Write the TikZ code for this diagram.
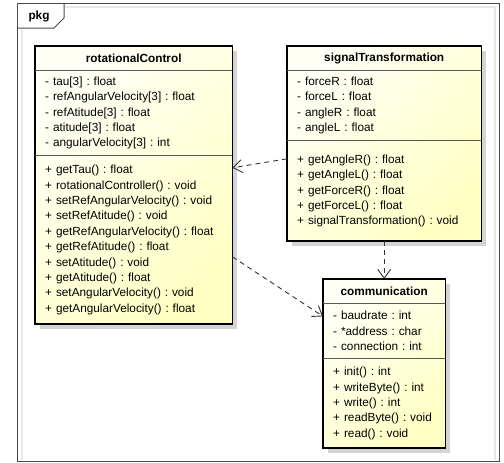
\documentclass[tikz,border=0pt]{standalone}
\usepackage{fontspec}
\setmainfont{Liberation Sans}
\usetikzlibrary{positioning,fit,backgrounds,shadows,arrows.meta}

\definecolor{clstop}{HTML}{FFFFF6}
\definecolor{clsbot}{HTML}{FFFFC4}
\definecolor{pkgline}{HTML}{4A4A4A}
\definecolor{pkginner}{HTML}{E8E8E8}
\definecolor{shadowgray}{HTML}{D4D4D4}

\newcommand{\umlfont}{\fontsize{11.8}{15.4}\selectfont\frenchspacing}

\begin{document}
\begin{tikzpicture}[x=1pt, y=-1pt,
    cls/.style = {font=\umlfont, inner xsep=10pt, inner ysep=3pt, text width=#1, align=left},
    clsname/.style = {cls=#1, font=\umlfont\bfseries, align=center, minimum height=24pt},
    clsbox/.style = {draw=black, line width=1.6pt, inner sep=0pt,
        top color=clstop, bottom color=clsbot, shading angle=45,
        drop shadow={shadow xshift=5pt, shadow yshift=-5pt, fill=shadowgray, opacity=1}},
    sepline/.style = {draw=black!65, line width=0.9pt},
    pkgframe/.style = {draw=pkgline, line width=1pt},
    pkgshade/.style = {draw=pkginner, line width=1.2pt},
    depend/.style = {draw=black!80, line width=0.9pt, dash pattern=on 5pt off 4pt,
        -{Straight Barb[length=9pt,width=13pt]}}]
    \useasboundingbox (0,0) rectangle (504,463);

    % package frame
    \draw[pkgshade] (22,29) -- (22,460);
    \draw[pkgshade] (65,7) -- (495,7) -- (495,460);
    \draw[pkgframe] (17,3) rectangle (499,461);
    \draw[pkgframe] (17,28) -- (54,28) -- (64,18) -- (64,3);
    \node[font=\umlfont\bfseries] (pkg) at (39,16) {pkg};

    % rotationalControl
    \node[clsname=177pt, anchor=north west] (rc) at (35,46) {rotationalControl};
    \node[cls=177pt, minimum height=85pt, below=0pt of rc] (rc-attr)
        {- tau[3] : float\\ - refAngularVelocity[3] : float\\ - refAtitude[3] : float\\
         - atitude[3] : float\\ - angularVelocity[3] : int};
    \node[cls=177pt, minimum height=168pt, below=0pt of rc-attr] (rc-ops)
        {+ getTau() : float\\ + rotationalController() : void\\ + setRefAngularVelocity() : void\\
         + setRefAtitude() : void\\ + getRefAngularVelocity() : float\\ + getRefAtitude() : float\\
         + setAtitude() : void\\ + getAtitude() : float\\ + setAngularVelocity() : void\\
         + getAngularVelocity() : float};

    % signalTransformation
    \node[clsname=174pt, anchor=north west] (st) at (287,46) {signalTransformation};
    \node[cls=174pt, minimum height=70pt, below=0pt of st] (st-attr)
        {- forceR : float\\ - forceL : float\\ - angleR : float\\ - angleL : float};
    \node[cls=174pt, minimum height=100pt, below=0pt of st-attr] (st-ops)
        {+ getAngleR() : float\\ + getAngleL() : float\\ + getForceR() : float\\
         + getForceL() : float\\ + signalTransformation() : void};

    % communication
    \node[clsname=102pt, anchor=north west] (comm) at (323,279) {communication};
    \node[cls=102pt, minimum height=55pt, below=0pt of comm] (comm-attr)
        {- baudrate : int\\ - *address : char\\ - connection : int};
    \node[cls=102pt, minimum height=89pt, below=0pt of comm-attr] (comm-ops)
        {+ init() : int\\ + writeByte() : int\\ + write() : int\\
         + readByte() : void\\ + read() : void};

    \begin{scope}[on background layer]
        \node[clsbox, fit=(rc)(rc-ops)] (rc-box) {};
        \node[clsbox, fit=(st)(st-ops)] (st-box) {};
        \node[clsbox, fit=(comm)(comm-ops)] (comm-box) {};
    \end{scope}

    \draw[sepline] (rc-attr.north west) -- (rc-attr.north east);
    \draw[sepline] (rc-ops.north west) -- (rc-ops.north east);
    \draw[sepline] (st-attr.north west) -- (st-attr.north east);
    \draw[sepline] (st-ops.north west) -- (st-ops.north east);
    \draw[sepline] (comm-attr.north west) -- (comm-attr.north east);
    \draw[sepline] (comm-ops.north west) -- (comm-ops.north east);

    % dependencies
    \draw[depend] ([yshift=-18pt]st-ops.north west) -- ([yshift=-12pt]rc-ops.north east);
    \draw[depend] (st-ops.south) -- (comm.north);
    \draw[depend] ([yshift=-101pt]rc-ops.north east) -- ([yshift=-13pt]comm-attr.north west);
\end{tikzpicture}
\end{document}
